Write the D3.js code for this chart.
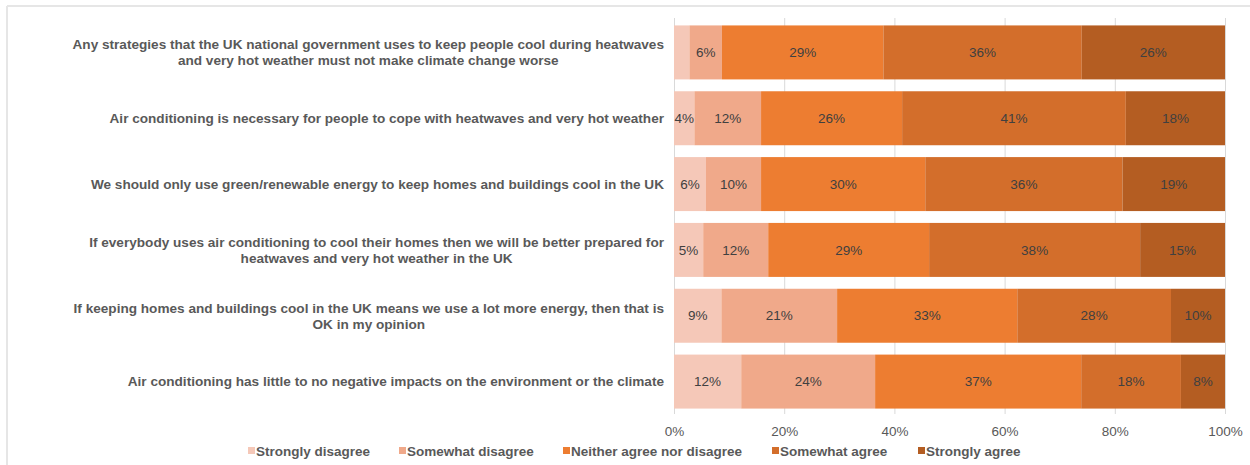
<!DOCTYPE html>
<html>
<head>
<meta charset="utf-8">
<script src="https://cdn.jsdelivr.net/npm/d3@7"></script>
<style>
  body { margin: 0; background: #fff; }
  svg { font-family: "Liberation Sans", Arial, sans-serif; }
</style>
</head>
<body>
<svg id="canvas" width="1250" height="465"></svg>
<script>
// statements (each line of a label is one entry)
let statements = [
  ['Any strategies that the UK national government uses to keep people cool during heatwaves', 'and very hot weather must not make climate change worse'],
  ['Air conditioning is necessary for people to cope with heatwaves and very hot weather'],
  ['We should only use green/renewable energy to keep homes and buildings cool in the UK'],
  ['If everybody uses air conditioning to cool their homes then we will be better prepared for', 'heatwaves and very hot weather in the UK'],
  ['If keeping homes and buildings cool in the UK means we use a lot more energy, then that is', 'OK in my opinion'],
  ['Air conditioning has little to no negative impacts on the environment or the climate']
];

let responses = ['Strongly disagree', 'Somewhat disagree', 'Neither agree nor disagree', 'Somewhat agree', 'Strongly agree'];

// percentages per statement, same order as responses
let stronglyDisagree = [2.8, 3.7, 5.8, 5.3, 8.6, 12.2];
let somewhatDisagree = [5.9, 12.1, 10.0, 11.8, 21.0, 24.3];
let neither = [29.3, 25.6, 29.8, 29.2, 32.7, 37.4];
let somewhatAgree = [36.0, 40.6, 35.8, 38.3, 27.9, 18.1];
let stronglyAgree = [26.0, 18.0, 18.6, 15.4, 9.8, 8.0];

let xTicks = [0, 20, 40, 60, 80, 100];
let colors = ['#F5C8B8', '#F0A98A', '#ED7D31', '#D36E2B', '#B45D22'];

let series = [stronglyDisagree, somewhatDisagree, neither, somewhatAgree, stronglyAgree];

let canvas = d3.select('#canvas');

// light frame
canvas.append('line').attr('x1', 7).attr('x2', 1250).attr('y1', 6).attr('y2', 6)
  .attr('stroke', '#e6e6e6').attr('stroke-width', 2);
canvas.append('line').attr('x1', 7).attr('x2', 7).attr('y1', 6).attr('y2', 465)
  .attr('stroke', '#e6e6e6').attr('stroke-width', 2);

let xScale = d3.scaleLinear().domain([0, 100]).range([674, 1225]);
let yScale = d3.scaleBand()
  .domain(d3.range(statements.length))
  .range([19.5, 414.5])
  .paddingInner(0.18)
  .paddingOuter(0.09);

// gridlines
canvas.append('g')
  .selectAll('line')
  .data(xTicks)
  .enter()
  .append('line')
  .attr('x1', (d) => xScale(d) + 0.5)
  .attr('x2', (d) => xScale(d) + 0.5)
  .attr('y1', 18)
  .attr('y2', 414)
  .attr('stroke', '#d9d9d9')
  .attr('stroke-width', 1);

// stacked rows
let rows = statements.map((s, i) => {
  let start = 0;
  return series.map((vals, k) => {
    let seg = { row: i, k: k, x0: start, x1: start + vals[i], v: vals[i] };
    start += vals[i];
    return seg;
  });
});

let segs = rows.flat();

canvas.append('g')
  .selectAll('rect')
  .data(segs)
  .enter()
  .append('rect')
  .attr('x', (d) => xScale(d.x0))
  .attr('y', (d) => yScale(d.row))
  .attr('width', (d) => xScale(d.x1) - xScale(d.x0))
  .attr('height', yScale.bandwidth())
  .attr('fill', (d) => colors[d.k]);

canvas.append('g')
  .selectAll('text')
  .data(segs.filter((d) => d.v >= 3.5))
  .enter()
  .append('text')
  .attr('x', (d) => (xScale(d.x0) + xScale(d.x1)) / 2)
  .attr('y', (d) => yScale(d.row) + yScale.bandwidth() / 2)
  .attr('dy', '0.35em')
  .attr('text-anchor', 'middle')
  .attr('font-size', 13.5)
  .attr('fill', '#404040')
  .text((d) => Math.round(d.v) + '%');

// category labels, lines centred on each other, block right aligned
let labelRight = 664;
statements.forEach((lines, i) => {
  let g = canvas.append('g').attr('class', 'cat');
  let cy = yScale(i) + yScale.bandwidth() / 2;
  let texts = lines.map((line, j) => {
    return g.append('text')
      .attr('y', cy + (j - (lines.length - 1) / 2) * 16)
      .attr('dy', '0.35em')
      .attr('text-anchor', 'middle')
      .attr('font-size', 13.6)
      .attr('font-weight', 'bold')
      .attr('fill', '#595959')
      .text(line);
  });
  let maxW = d3.max(texts, (t) => t.node().getComputedTextLength());
  texts.forEach((t) => t.attr('x', labelRight - maxW / 2));
});

// x axis labels
let xAxis = d3.axisBottom(xScale)
  .tickValues(xTicks)
  .tickSize(0)
  .tickPadding(13)
  .tickFormat((d) => d + '%');

let axisG = canvas.append('g')
  .attr('transform', 'translate(0,413)')
  .call(xAxis);
axisG.select('.domain').remove();
axisG.selectAll('text')
  .attr('font-size', 13.5)
  .attr('font-family', '"Liberation Sans", Arial, sans-serif')
  .attr('fill', '#595959');

// legend
let legendX = [248, 399, 563, 772, 918];
let legend = canvas.append('g')
  .selectAll('g')
  .data(responses)
  .enter()
  .append('g')
  .attr('transform', (d, i) => 'translate(' + legendX[i] + ',451)');

legend.append('rect')
  .attr('x', 0)
  .attr('y', -4)
  .attr('width', 7)
  .attr('height', 7)
  .attr('fill', (d, i) => colors[i]);

legend.append('text')
  .attr('x', 8)
  .attr('dy', '0.35em')
  .attr('font-size', 13.5)
  .attr('font-weight', 'bold')
  .attr('fill', '#595959')
  .text((d) => d);
</script>
</body>
</html>
